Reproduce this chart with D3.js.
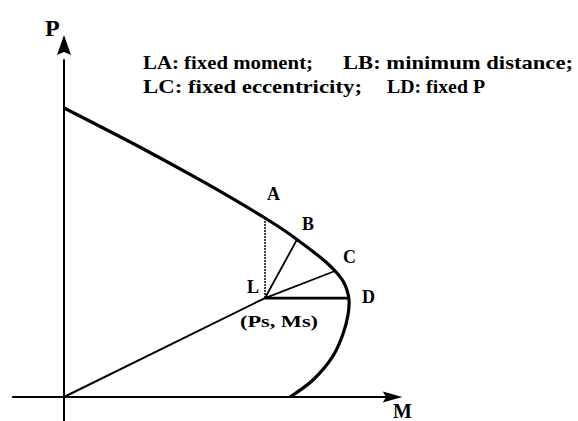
<!DOCTYPE html>
<html>
<head>
<meta charset="utf-8">
<script src="https://cdn.jsdelivr.net/npm/d3@7"></script>
<style>
  html, body { margin: 0; padding: 0; background: #fff; }
  svg { display: block; }
  text { font-family: "Liberation Serif", "DejaVu Serif", serif; font-weight: bold; fill: #000; }
</style>
</head>
<body>
<svg id="chart" width="578" height="421"></svg>
<script>
// Interaction curve P(M), listed from the pure-axial point down to pure bending
const curveM = [0, 0.89, 1.6, 2.07, 2.365, 2.635, 2.812, 2.965, 3.094, 3.2, 3.282, 3.329, 3.353, 3.341, 3.282, 3.165, 2.929, 2.659];
const curveP = [3.593, 3.108, 2.698, 2.412, 2.225, 2.039, 1.902, 1.778, 1.666, 1.554, 1.442, 1.33, 1.206, 1.019, 0.783, 0.51, 0.211, 0];

// Load point L = (Ps, Ms)
const loadPoint = { M: 2.365, P: 1.23 };

// Points where each load path meets the curve
const pathNames = ["A", "B", "C", "D"];
const pathM = [2.365, 2.741, 3.188, 3.353];
const pathP = [2.225, 1.957, 1.566, 1.23];

// Legend lines
const legendRows = [
  ["LA: fixed moment;", "LB: minimum distance;"],
  ["LC: fixed eccentricity;", "LD: fixed P"]
];

const svg = d3.select("#chart");

const x = d3.scaleLinear().domain([0, 4]).range([64, 404]);
const y = d3.scaleLinear().domain([0, 4.5]).range([397, 35]);

// Axes with arrowheads
const axisG = svg.append("g").attr("stroke", "#000");
axisG.append("line")
  .attr("x1", x(-0.61)).attr("x2", x(3.8))
  .attr("y1", y(0)).attr("y2", y(0))
  .attr("stroke-width", 2.2);
axisG.append("line")
  .attr("x1", x(0)).attr("x2", x(0))
  .attr("y1", y(-0.3)).attr("y2", y(4.2))
  .attr("stroke-width", 2);

// M arrow
svg.append("path")
  .attr("d", `M${x(3.98)},${y(0)} L${x(3.75)},${y(0) - 5.5} L${x(3.79)},${y(0)} L${x(3.75)},${y(0) + 5.5} Z`)
  .attr("fill", "#000");
// P arrow
svg.append("path")
  .attr("d", `M${x(0)},${y(4.5)} L${x(0) - 7},${y(4.25)} L${x(0)},${y(4.29)} L${x(0) + 7},${y(4.25)} Z`)
  .attr("fill", "#000");

svg.append("text").attr("x", 45).attr("y", 36).attr("font-size", 24).text("P");
svg.append("text").attr("x", 393).attr("y", 418).attr("font-size", 20).text("M");

// Interaction curve
const curveData = curveM.map((m, i) => ({ M: m, P: curveP[i] }));
svg.append("path")
  .datum(curveData)
  .attr("d", d3.line().x(d => x(d.M)).y(d => y(d.P)).curve(d3.curveCatmullRom.alpha(0.5)))
  .attr("fill", "none")
  .attr("stroke", "#000")
  .attr("stroke-width", 3.2)
  .attr("stroke-linejoin", "round");

// Radial line from origin to L
svg.append("line")
  .attr("x1", x(0)).attr("y1", y(0))
  .attr("x2", x(loadPoint.M)).attr("y2", y(loadPoint.P))
  .attr("stroke", "#000").attr("stroke-width", 2);

// Load paths LA, LB, LC, LD
const pathWidths = [1.5, 1.8, 1.8, 2.8];
svg.append("g").selectAll("line")
  .data(pathNames)
  .join("line")
  .attr("x1", x(loadPoint.M)).attr("y1", y(loadPoint.P))
  .attr("x2", (d, i) => x(pathM[i]))
  .attr("y2", (d, i) => y(pathP[i]))
  .attr("stroke", "#000")
  .attr("stroke-width", (d, i) => pathWidths[i])
  .attr("stroke-dasharray", (d, i) => i === 0 ? "2,1" : null);

// Point labels
const labelPos = { A: [267, 200], B: [302, 230], C: [343, 263], D: [362, 303] };
svg.append("g").selectAll("text")
  .data(pathNames)
  .join("text")
  .attr("x", d => labelPos[d][0])
  .attr("y", d => labelPos[d][1])
  .attr("font-size", 18)
  .text(d => d);

svg.append("text").attr("x", 247).attr("y", 293).attr("font-size", 18).text("L");
svg.append("text").attr("x", 240).attr("y", 327).attr("font-size", 16)
  .attr("textLength", 78).attr("lengthAdjust", "spacingAndGlyphs").text("(Ps, Ms)");

// Legend
const legendX = [[143, 343], [143, 387]];
const legendW = [[170, 230], [219, 98]];
const legendY = [69, 93];
legendRows.forEach((row, r) => {
  row.forEach((t, c) => {
    svg.append("text")
      .attr("x", legendX[r][c]).attr("y", legendY[r])
      .attr("font-size", 19)
      .attr("textLength", legendW[r][c])
      .attr("lengthAdjust", "spacingAndGlyphs")
      .text(t);
  });
});
</script>
</body>
</html>
